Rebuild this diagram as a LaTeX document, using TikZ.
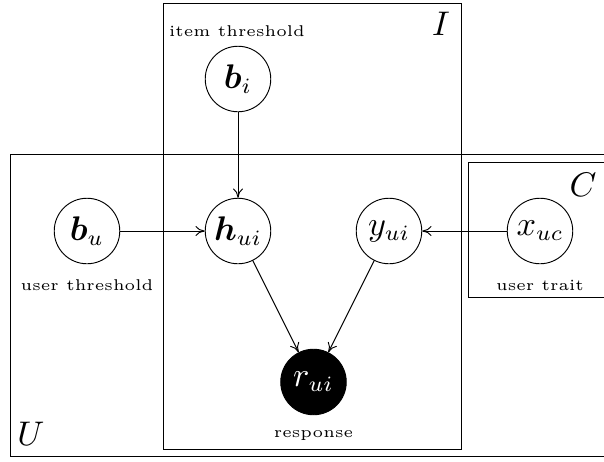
\documentclass[tikz,border=0pt]{standalone}
\usepackage{bm}
\usetikzlibrary{positioning, arrows.meta}
\tikzset{
  latentvar/.style={circle, draw, fill=white, minimum size=21pt, inner sep=1pt, font=\fontsize{10.5}{10.5}\selectfont},
  obsvar/.style={latentvar, fill=black, text=white},
  captext/.style={font=\tiny},
  platelabel/.style={font=\fontsize{11}{11}\selectfont}
}
\begin{document}
\begin{tikzpicture}[x=0.3205pt, y=-0.3205pt, line width=0.3pt, >={To[length=3pt, width=3.2pt]}]
        \clip (0,0) rectangle (604,461);

        % Plates
        \draw (10,154) rectangle (640,456);
        \draw (163,3) rectangle (461,449);
        \draw (468,162) rectangle (640,297);
        \node[platelabel] (labI) at (441,24) {$I$};
        \node[platelabel] (labU) at (31,434) {$U$};
        \node[platelabel] (labC) at (583,185) {$C$};

        % Variables
        \node[latentvar] (bi) at (238,79) {$\bm{b}_i$};
        \node[captext] (bicap) at (237,31) {item threshold};

        \node[latentvar] (bu) at (87,231) {$\bm{b}_u$};
        \node[captext, below=1.5pt of bu] (bucap) {user threshold};

        \node[latentvar] (hui) at (238,231) {$\bm{h}_{ui}$};
        \node[latentvar] (yui) at (389,231) {$y_{ui}$};

        \node[latentvar] (xuc) at (540,231) {$x_{uc}$};
        \node[captext, below=1.5pt of xuc] (xuccap) {user trait};

        \node[obsvar] (rui) at (313.5,382) {$r_{ui}$};
        \node[captext, below=1.5pt of rui] (ruicap) {response};

        % Arrows
        \draw[->] (bi) -- (hui);
        \draw[->] (bu) -- (hui);
        \draw[->] (xuc) -- (yui);
        \foreach \src in {hui, yui} {
            \draw[->] (\src) -- (rui);
        }
\end{tikzpicture}
\end{document}
